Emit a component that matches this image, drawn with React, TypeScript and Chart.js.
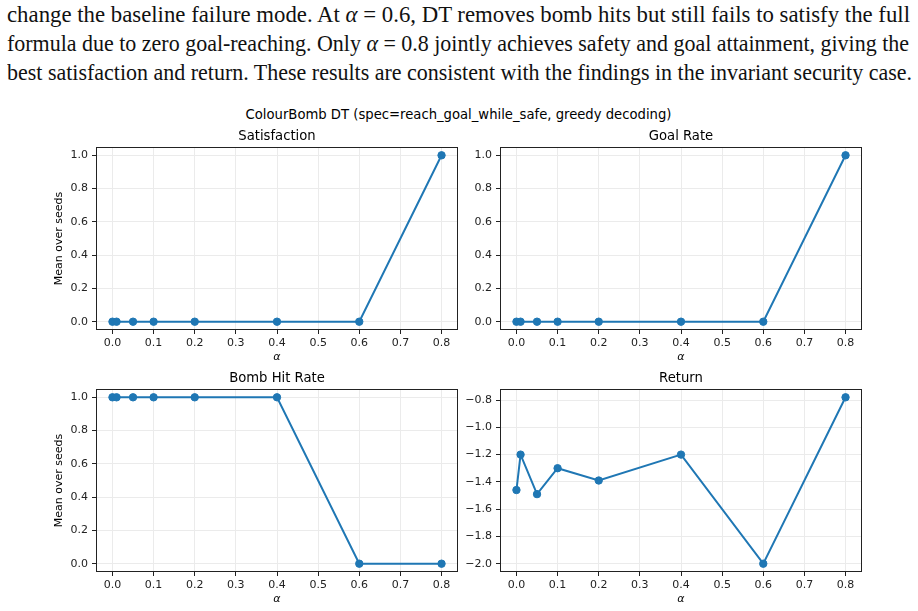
import React, { useEffect, useLayoutEffect, useRef } from 'react';
import { Chart, registerables } from 'chart.js';

Chart.register(...registerables);

// ---------- data ----------
const alphas = [0, 0.01, 0.05, 0.1, 0.2, 0.4, 0.6, 0.8];
const satisfaction = [0, 0, 0, 0, 0, 0, 0, 1];
const goalRate = [0, 0, 0, 0, 0, 0, 0, 1];
const bombHitRate = [1, 1, 1, 1, 1, 1, 0, 0];
const returnValues = [-1.46, -1.2, -1.49, -1.3, -1.39, -1.2, -2.0, -0.78];

const xTicks = [0, 0.1, 0.2, 0.3, 0.4, 0.5, 0.6, 0.7, 0.8];
const rateTicks = [0, 0.2, 0.4, 0.6, 0.8, 1.0];
const returnTicks = [-2.0, -1.8, -1.6, -1.4, -1.2, -1.0, -0.8];

const suptitle = 'ColourBomb DT (spec=reach_goal_while_safe, greedy decoding)';
const panelTitles = ['Satisfaction', 'Goal Rate', 'Bomb Hit Rate', 'Return'];
const yLabel = 'Mean over seeds';
const xLabel = 'α';

const paragraphLines = [
  'change the baseline failure mode. At α = 0.6, DT removes bomb hits but still fails to satisfy the full',
  'formula due to zero goal-reaching. Only α = 0.8 jointly achieves safety and goal attainment, giving the',
  'best satisfaction and return. These results are consistent with the findings in the invariant security case.',
];

// ---------- style / layout ----------
const FONT = '"DejaVu Sans", sans-serif';
const BLUE = '#1f77b4';
const INK = '#222222';
const GRID = '#ebebeb';

const PAD_L = 70;
const PAD_T = 30;
const PAD_R = 10;
const PAD_B = 36;

const lineTargets = [
  { top: 0, width: 903 },
  { top: 29, width: 902 },
  { top: 57.5, width: 905 },
];

function marginRange(vals: number[]) {
  const lo = Math.min(...vals);
  const hi = Math.max(...vals);
  const m = (hi - lo) * 0.05;
  return [lo - m, hi + m];
}

function fmt(v: number) {
  const s = Math.abs(v).toFixed(1);
  return v < -1e-9 ? '\u2212' + s : s;
}

const framePlugin = {
  id: 'frame',
  afterDraw(chart: any) {
    const { ctx, chartArea } = chart;
    const l = Math.round(chartArea.left) + 0.5;
    const t = Math.round(chartArea.top) + 0.5;
    const r = Math.round(chartArea.right) - 0.5;
    const b = Math.round(chartArea.bottom) - 0.5;
    ctx.save();
    ctx.strokeStyle = INK;
    ctx.lineWidth = 1;
    ctx.strokeRect(l, t, r - l, b - t);
    ctx.restore();
  },
};

const panelTitlePlugin = {
  id: 'panelTitle',
  afterDraw(chart: any, _args: any, opts: any) {
    const { ctx, chartArea } = chart;
    ctx.save();
    ctx.font = '13.2px ' + FONT;
    ctx.fillStyle = '#000';
    ctx.textAlign = 'center';
    ctx.textBaseline = 'alphabetic';
    ctx.fillText(opts.text, (chartArea.left + chartArea.right) / 2, chartArea.top - 6.6);
    ctx.restore();
  },
};

type PanelProps = {
  title: string;
  values: number[];
  yTicks: number[];
  showYLabel: boolean;
  box: { L: number; T: number; R: number; B: number };
};

function Panel({ title, values, yTicks, showYLabel, box }: PanelProps) {
  const ref = useRef<HTMLCanvasElement>(null);
  const w = box.R - box.L + PAD_L + PAD_R;
  const h = box.B - box.T + PAD_T + PAD_B;

  useEffect(() => {
    if (!ref.current) return;
    const [xmin, xmax] = marginRange(alphas);
    const [ymin, ymax] = marginRange(values);
    const tickFont = { family: FONT, size: 11 };
    const chart = new Chart(ref.current, {
      type: 'line',
      data: {
        datasets: [
          {
            data: alphas.map((a, i) => ({ x: a, y: values[i] })),
            borderColor: BLUE,
            backgroundColor: BLUE,
            borderWidth: 2,
            pointRadius: 3.7,
            pointBorderWidth: 1,
            pointBackgroundColor: BLUE,
            pointBorderColor: BLUE,
            tension: 0,
            fill: false,
          },
        ],
      },
      options: {
        animation: false,
        responsive: false,
        devicePixelRatio: 1,
        events: [],
        layout: { padding: { left: 0, top: PAD_T, right: PAD_R, bottom: 0 } },
        plugins: {
          legend: { display: false },
          tooltip: { enabled: false },
          title: { display: false },
          // @ts-ignore
          panelTitle: { text: title },
        },
        scales: {
          x: {
            type: 'linear',
            min: xmin,
            max: xmax,
            afterBuildTicks: (s: any) => {
              s.ticks = xTicks.map((v) => ({ value: v }));
            },
            afterFit: (s: any) => {
              s.height = PAD_B;
            },
            ticks: {
              font: tickFont,
              color: INK,
              padding: 2.5,
              maxRotation: 0,
              autoSkip: false,
              callback: (v: any) => fmt(Number(v)),
            },
            grid: {
              color: GRID,
              lineWidth: 1,
              drawTicks: true,
              tickLength: 4,
              tickColor: INK,
              tickWidth: 1,
            },
            border: { display: false },
            title: {
              display: true,
              text: xLabel,
              color: '#000',
              font: { family: FONT, size: 11, style: 'italic' },
              padding: { top: 0, bottom: 2.4 },
            },
          },
          y: {
            type: 'linear',
            min: ymin,
            max: ymax,
            afterBuildTicks: (s: any) => {
              s.ticks = yTicks.map((v) => ({ value: v }));
            },
            afterFit: (s: any) => {
              s.width = PAD_L;
            },
            ticks: {
              font: tickFont,
              color: INK,
              padding: 4,
              autoSkip: false,
              callback: (v: any) => fmt(Number(v)),
            },
            grid: {
              color: GRID,
              lineWidth: 1,
              drawTicks: true,
              tickLength: 4,
              tickColor: INK,
              tickWidth: 1,
            },
            border: { display: false },
            title: {
              display: showYLabel,
              text: yLabel,
              color: '#000',
              font: { family: FONT, size: 11 },
              padding: { top: 26.4, bottom: 0 },
            },
          },
        },
      } as any,
      plugins: [framePlugin, panelTitlePlugin],
    });
    return () => chart.destroy();
  }, []);

  return (
    <canvas
      ref={ref}
      width={w}
      height={h}
      style={{ position: 'absolute', left: box.L - PAD_L, top: box.T - PAD_T, width: w, height: h }}
    />
  );
}

function renderLine(text: string) {
  const parts = text.split('α');
  const out: React.ReactNode[] = [];
  parts.forEach((p, i) => {
    if (i > 0) out.push(<i key={'a' + i}>α</i>);
    out.push(<span key={'t' + i}>{p}</span>);
  });
  return out;
}

export default function App() {
  const lineRefs = useRef<(HTMLDivElement | null)[]>([]);

  useLayoutEffect(() => {
    const fit = () => {
      lineRefs.current.forEach((el, i) => {
        if (!el) return;
        el.style.transform = 'none';
        const nat = el.getBoundingClientRect().width;
        if (nat > 0) el.style.transform = `scaleX(${lineTargets[i].width / nat})`;
      });
    };
    fit();
    if ((document as any).fonts && (document as any).fonts.ready) {
      (document as any).fonts.ready.then(fit);
    }
  }, []);

  const boxes = [
    { L: 96, T: 147, R: 458, B: 330 },
    { L: 500, T: 147, R: 862, B: 330 },
    { L: 96, T: 389, R: 458, B: 572 },
    { L: 500, T: 389, R: 862, B: 572 },
  ];
  const series = [satisfaction, goalRate, bombHitRate, returnValues];
  const ticks = [rateTicks, rateTicks, rateTicks, returnTicks];

  return (
    <div
      style={{
        position: 'absolute',
        left: 0,
        top: 0,
        width: 918,
        height: 611,
        overflow: 'hidden',
        background: '#ffffff',
      }}
    >
      {paragraphLines.map((t, i) => (
        <div
          key={i}
          ref={(el) => {
            lineRefs.current[i] = el;
          }}
          style={{
            position: 'absolute',
            left: 7,
            top: lineTargets[i].top,
            whiteSpace: 'nowrap',
            fontFamily: '"Liberation Serif", serif',
            fontSize: 24,
            lineHeight: '29px',
            color: '#111',
            transformOrigin: '0 0',
          }}
        >
          {renderLine(t)}
        </div>
      ))}
      <div
        style={{
          position: 'absolute',
          left: 0,
          width: 917,
          top: 107.3,
          textAlign: 'center',
          fontFamily: FONT,
          fontSize: 13.2,
          color: '#000',
          whiteSpace: 'nowrap',
        }}
      >
        {suptitle}
      </div>
      {boxes.map((b, i) => (
        <Panel
          key={i}
          title={panelTitles[i]}
          values={series[i]}
          yTicks={ticks[i]}
          showYLabel={i % 2 === 0}
          box={b}
        />
      ))}
    </div>
  );
}
